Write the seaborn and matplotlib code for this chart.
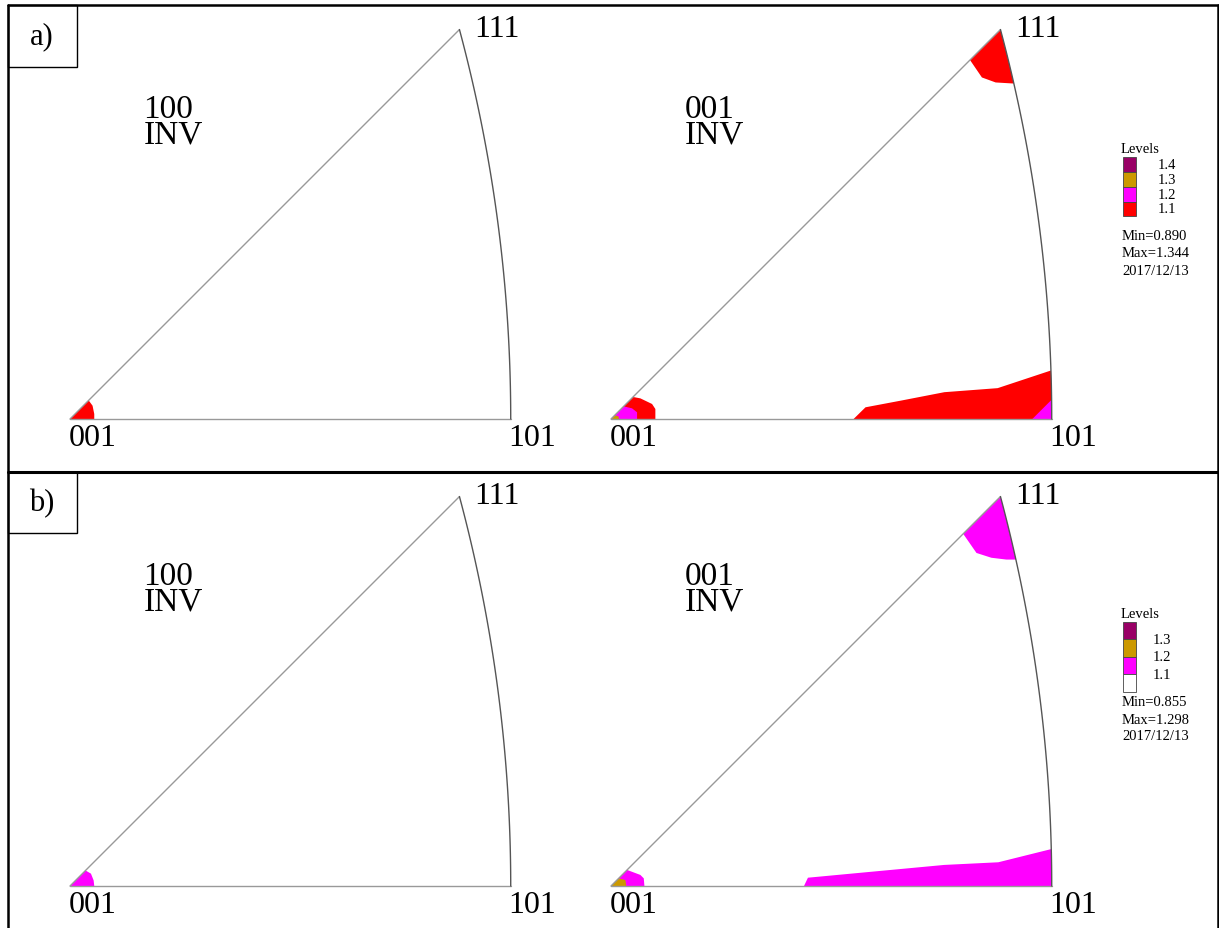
import numpy as np
import matplotlib
matplotlib.use("Agg")
import matplotlib.pyplot as plt
from matplotlib.patches import Polygon, Rectangle
import seaborn as sns

# legend contents
colors_a = ["#990066", "#CC9900", "#FF00FF", "#FF0000"]
levels_a = ["1.4", "1.3", "1.2", "1.1"]
stats_a = ["Min=0.890", "Max=1.344", "2017/12/13"]

colors_b = ["#990066", "#CC9900", "#FF00FF", "#FFFFFF"]
levels_b = ["1.3", "1.2", "1.1"]
stats_b = ["Min=0.855", "Max=1.298", "2017/12/13"]

corner_labels = ["001", "101", "111"]
pole_titles = ["100", "001"]

# contour regions in stereographic units (x, y)
a100_red = [(0.0, 0.0), (0.0175, 0.0175), (0.0212, 0.0125), (0.0228, 0.0047), (0.0228, 0.0)]

a001_top_red = [(0.366, 0.366), (0.3374, 0.3374), (0.3486, 0.321), (0.3615, 0.3163),
                (0.3782, 0.3153), (0.41, 0.32), (0.40, 0.40)]
a001_base_red = [(0.228, 0.0), (0.2392, 0.011), (0.2726, 0.0173), (0.3133, 0.0252),
                 (0.3634, 0.029), (0.4135, 0.0456), (0.44, 0.05), (0.44, -0.01), (0.228, -0.01)]
a001_base_mag = [(0.396, 0.0), (0.4142, 0.0182), (0.44, 0.02), (0.44, -0.01), (0.396, -0.01)]
a001_corner_red = [(0.0, 0.0), (0.0207, 0.0207), (0.0276, 0.0194), (0.0386, 0.0141),
                   (0.0417, 0.0094), (0.0417, 0.0)]
a001_corner_mag = [(0.0, 0.0), (0.0119, 0.0119), (0.0198, 0.010), (0.0245, 0.0063), (0.0245, 0.0)]
a001_corner_gold = [(0.0, 0.0), (0.0035, 0.0035), (0.007, 0.0025), (0.0075, 0.0)]

b100_mag = [(0.0, 0.0), (0.0144, 0.0147), (0.0197, 0.0116), (0.0222, 0.0053), (0.0228, 0.0)]

b001_top_mag = [(0.366, 0.366), (0.331, 0.331), (0.3435, 0.313), (0.3575, 0.3085),
                (0.3716, 0.3068), (0.380, 0.3068), (0.41, 0.31), (0.40, 0.40)]
b001_base_mag = [(0.1814, 0.0), (0.1851, 0.0078), (0.3131, 0.0198), (0.364, 0.0223),
                 (0.4142, 0.0348), (0.44, 0.04), (0.44, -0.01), (0.1814, -0.01)]
b001_corner_mag = [(0.0, 0.0), (0.0151, 0.0151), (0.0276, 0.0104), (0.0308, 0.0072), (0.0314, 0.0)]
b001_corner_gold = [(0.0, 0.0), (0.0072, 0.0072), (0.0135, 0.0056), (0.0144, 0.0)]

RED, MAG, GOLD = "#FF0000", "#FF00FF", "#CC9900"

sns.set_style("white")
plt.rcParams["font.family"] = ["Liberation Serif", "DejaVu Serif"]
plt.rcParams["text.color"] = "black"

W, H = 1219, 929
fig = plt.figure(figsize=(W / 100, H / 100), dpi=100)

# stereographic triangle: 001 - 101 - 111
t101 = np.sqrt(2) - 1
ang = np.radians(np.linspace(0, 15, 60))
arc_x = -1 + np.sqrt(2) * np.cos(ang)
arc_y = np.sqrt(2) * np.sin(ang)
tri = np.vstack([[[0, 0]], np.column_stack([arc_x, arc_y]), [[0, 0]]])

S = 1064  # px per unit
XL, YL = (-0.03, 0.47), (-0.035, 0.39)


def triangle_axes(ox, oy, title, regions):
    left = ox + XL[0] * S
    top = oy - YL[1] * S
    w = (XL[1] - XL[0]) * S
    h = (YL[1] - YL[0]) * S
    ax = fig.add_axes([left / W, (H - top - h) / H, w / W, h / H])
    ax.set_xlim(*XL)
    ax.set_ylim(*YL)
    ax.axis("off")
    clip = Polygon(tri, closed=True, facecolor="none", edgecolor="none")
    ax.add_patch(clip)
    for col, pts in regions:
        p = Polygon(pts, closed=True, facecolor=col, edgecolor="none", zorder=2)
        ax.add_patch(p)
        p.set_clip_path(clip)
    ax.plot([0, t101], [0, 0], color="#999999", lw=1.0, zorder=3)
    ax.plot([0, arc_x[-1]], [0, arc_y[-1]], color="#999999", lw=1.0, zorder=3)
    ax.plot(arc_x, arc_y, color="#555555", lw=1.0, zorder=3)
    fs = 23
    ax.text(0.021, -0.0245, corner_labels[0], ha="center", va="baseline", fontsize=fs)
    ax.text(t101 + 0.020, -0.0245, corner_labels[1], ha="center", va="baseline", fontsize=fs)
    ax.text(arc_x[-1] + 0.014, arc_y[-1] - 0.0056, corner_labels[2], ha="left", va="baseline", fontsize=fs)
    ax.text(0.069, 0.2603, title + "\nINV", ha="left", va="baseline", fontsize=24,
            linespacing=0.78, multialignment="left")
    return ax


triangle_axes(70, 420, pole_titles[0], [(RED, a100_red)])
triangle_axes(611, 420, pole_titles[1],
              [(RED, a001_top_red), (RED, a001_base_red), (MAG, a001_base_mag),
               (RED, a001_corner_red), (MAG, a001_corner_mag), (GOLD, a001_corner_gold)])
triangle_axes(70, 887, pole_titles[0], [(MAG, b100_mag)])
triangle_axes(611, 887, pole_titles[1],
              [(MAG, b001_top_mag), (MAG, b001_base_mag),
               (MAG, b001_corner_mag), (GOLD, b001_corner_gold)])

# overlay in pixel coords: frame, panel tags, legends
ov = fig.add_axes([0, 0, 1, 1], facecolor="none")
ov.set_xlim(0, W)
ov.set_ylim(H, 0)
ov.axis("off")

ov.plot([8, 8], [6, H], color="black", lw=1.8)
ov.plot([8, 1218], [6, 6], color="black", lw=1.8)
ov.plot([1218, 1218], [6, H], color="black", lw=1.8)
ov.plot([8, 1218], [473, 473], color="black", lw=2.2)

for lab, y0, y1 in [("a)", 6, 68), ("b)", 473, 534)]:
    ov.add_patch(Rectangle((8, y0), 69, y1 - y0, facecolor="white", edgecolor="black", lw=1.0))
    ov.text(42, (y0 + y1) / 2, lab, ha="center", va="center", fontsize=22)

lfs = 10.5
# legend a
ov.text(1121, 149, "Levels", ha="left", va="center", fontsize=lfs)
bh = 14.75
for i, (c, lv) in enumerate(zip(colors_a, levels_a)):
    y = 158.3 + i * bh
    ov.add_patch(Rectangle((1123, y), 13, bh, facecolor=c, edgecolor="#444444", lw=0.6))
    ov.text(1158, y + bh / 2, lv, ha="left", va="center", fontsize=lfs)
for i, s in enumerate(stats_a):
    ov.text(1122, 236 + i * 17.5, s, ha="left", va="center", fontsize=lfs)

# legend b
ov.text(1121, 614, "Levels", ha="left", va="center", fontsize=lfs)
bh = 17.4
for i, c in enumerate(colors_b):
    y = 623 + i * bh
    ov.add_patch(Rectangle((1123, y), 13, bh, facecolor=c, edgecolor="#444444", lw=0.6))
for i, lv in enumerate(levels_b):
    ov.text(1153, 623 + (i + 1) * bh, lv, ha="left", va="center", fontsize=lfs)
for i, s in enumerate(stats_b):
    ov.text(1122, 703 + i * 17, s, ha="left", va="center", fontsize=lfs)

fig.savefig("out.png", dpi=100)
